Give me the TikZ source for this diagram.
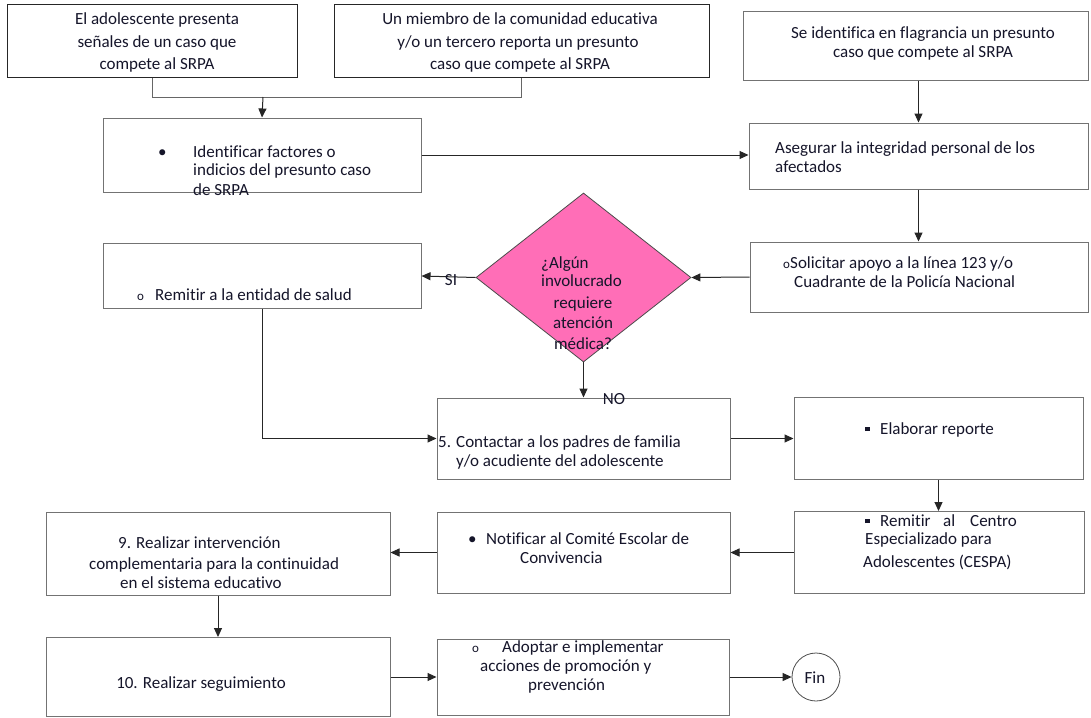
\documentclass[tikz,border=0pt]{standalone}
\usepackage{fontspec}
\setmainfont{Carlito}[Ligatures=NoCommon]
\usetikzlibrary{arrows.meta,shapes.geometric}
\definecolor{pinkfill}{HTML}{FF6EB7}
\definecolor{txt}{HTML}{15152A}
\begin{document}
\begin{tikzpicture}[x=1pt,y=-1pt,
  box/.style={draw=black!55, line width=1pt, rectangle, inner sep=0pt},
  tbox/.style={box, draw=black!85},
  arr/.style={draw=black!85, line width=1pt, -{Triangle[length=9pt,width=8pt]}},
  ln/.style={draw=black!60, line width=1pt},
  t/.style={text=txt, font=\fontsize{17}{20}\selectfont, inner sep=0pt, anchor=base west},
  tc/.style={t, anchor=base},
  sq/.style={t},
  ob/.style={text=txt, font=\fontsize{13}{14}\selectfont, inner sep=0pt, anchor=base west}]
\fill[white] (0,0) rectangle (1091,717);
\useasboundingbox (0,0) rectangle (1091,717);

% boxes
\node[tbox, minimum width=290, minimum height=72] (b1) at (152,41) {};
\node[tbox, minimum width=375, minimum height=72] (b2) at (521.5,41) {};
\node[box, minimum width=345, minimum height=68] (b3) at (915.5,46) {};
\node[box, minimum width=318, minimum height=74] (id) at (262,155) {};
\node[box, minimum width=339, minimum height=66] (as) at (918.5,156) {};
\node[box, minimum width=338, minimum height=70] (so) at (919,277) {};
\node[box, minimum width=318, minimum height=65] (rm) at (262,276) {};
\node[diamond, draw=black!70, line width=0.8pt, fill=pinkfill, inner sep=0pt,
      minimum width=215, minimum height=169] (dm) at (583.5,277.5) {};
\node[box, minimum width=293, minimum height=81] (ct) at (583.5,438.5) {};
\node[box, minimum width=289, minimum height=82] (el) at (938.5,438.5) {};
\node[box, minimum width=290, minimum height=82] (ce) at (939,552.5) {};
\node[box, minimum width=293, minimum height=81] (nt) at (583.5,552.5) {};
\node[box, minimum width=344, minimum height=83] (b9) at (218,553.5) {};
\node[box, minimum width=344, minimum height=79] (b10) at (218,677) {};
\node[box, minimum width=292, minimum height=76] (ad) at (583,677) {};
\node[circle, draw=black!70, line width=0.8pt, minimum size=48, inner sep=0pt] (fin) at (816,677) {};

% connectors
\coordinate (mj) at (263,97);
\draw[ln] (b1.south) -- (b1.south |- mj) -- (b2.south |- mj) -- (b2.south);
\draw[arr] (mj) -- (id.north);
\draw[arr] (id.east) -- (as.west |- id.east);
\draw[arr] (b3.south -| as.north) -- (as.north);
\draw[arr] (as.south) -- (as.south |- so.north);
\draw[arr] (so.west) -- (dm.east);
\draw[arr] (dm.west) -- (rm.east);
\draw[arr] (dm.south) -- (ct.north);
\draw[arr] (rm.south) |- (ct.west);
\draw[arr] (ct.east) -- (el.west);
\draw[arr] (el.south) -- (el.south |- ce.north);
\draw[arr] (ce.west) -- (nt.east);
\draw[arr] (nt.west) -- (b9.east |- nt.west);
\draw[arr] (b9.south) -- (b10.north);
\draw[arr] (b10.east) -- (ad.west);
\draw[arr] (ad.east) -- (fin.west);

% texts
\node[tc] (l1a) at (157,25) {El adolescente presenta};
\node[tc] (l1b) at (157,48) {señales de un caso que};
\node[tc] (l1c) at (157,70) {compete al SRPA};
\node[tc] (l2a) at (520,25) {Un miembro de la comunidad educativa};
\node[tc] (l2b) at (518,48) {y/o un tercero reporta un presunto};
\node[tc] (l2c) at (520,70) {caso que compete al SRPA};
\node[tc] (l3a) at (923,38) {Se identifica en flagrancia un presunto};
\node[tc] (l3b) at (923,57) {caso que compete al SRPA};

\node[t] (idbul) at (158,157) {•};
\node[t] (ida) at (193,157) {Identificar factores o};
\node[t] (idb) at (193,175) {indicios del presunto caso};
\node[t] (idc) at (193,195) {de SRPA};

\node[t] (asa) at (775,153) {Asegurar la integridad personal de los};
\node[t] (asb) at (775,172) {afectados};

\node[ob] (sobul) at (783,268) {o};
\node[t] (soa) at (790,268) {Solicitar apoyo a la línea 123 y/o};
\node[t] (sob) at (794,287) {Cuadrante de la Policía Nacional};

\node[t] (dma) at (541,268) {¿Algún};
\node[t] (dmb) at (541,286) {involucrado};
\node[tc] (dmc) at (583,308) {requiere};
\node[tc] (dmd) at (583,328) {atención};
\node[tc] (dme) at (583,349) {médica?};

\node[ob] (rmbul) at (137,300) {o};
\node[t] (rma) at (155,300) {Remitir a la entidad de salud};
\node[tc] (si) at (451,285) {SI};
\node[tc] (no) at (614,404) {NO};

\node[t] (cta) at (438,447) {5. Contactar a los padres de familia};
\node[t] (ctb) at (456,466) {y/o acudiente del adolescente};

\node[sq] (elbul) at (865,434) {\raisebox{3pt}{\rule{4.5pt}{4.5pt}}};
\node[t] (ela) at (880,434) {Elaborar reporte};

\node[sq] (cebul) at (865,526) {\raisebox{3pt}{\rule{4.5pt}{4.5pt}}};
\node[t] (cea) at (880,526) {Remitir};
\node[t] (ceb) at (943,526) {al};
\node[t] (cec) at (970,526) {Centro};
\node[t] (ced) at (865,544) {Especializado para};
\node[t] (cee) at (863,567) {Adolescentes (CESPA)};

\node[t] (ntbul) at (468,544) {•};
\node[t] (nta) at (486,544) {Notificar al Comité Escolar de};
\node[t] (ntb) at (520,563) {Convivencia};

\node[t] (n9a) at (118,548) {9. Realizar intervención};
\node[t] (n9b) at (89,569) {complementaria para la continuidad};
\node[t] (n9c) at (120,588) {en el sistema educativo};

\node[tc] (n10) at (201,688) {10. Realizar seguimiento};

\node[ob] (adbul) at (472,652) {o};
\node[t] (ada) at (502,652) {Adoptar e implementar};
\node[t] (adb) at (480,671) {acciones de promoción y};
\node[t] (adc) at (528,690) {prevención};

\node[tc] (fint) at (815,683) {Fin};
\end{tikzpicture}
\end{document}
